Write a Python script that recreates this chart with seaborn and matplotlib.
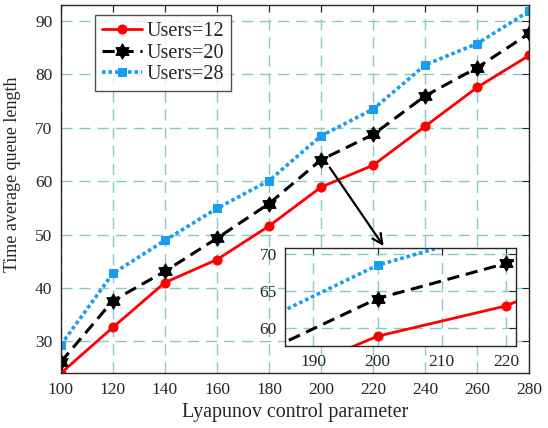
import matplotlib
matplotlib.use("Agg")
import numpy as np
import matplotlib.pyplot as plt
from matplotlib.path import Path
import seaborn as sns

# Data
v_values = [100, 120, 140, 160, 180, 200, 220, 240, 260, 280]
users_12 = [24.0, 32.6, 41.0, 45.3, 51.6, 58.9, 63.0, 70.3, 77.6, 83.6]
users_20 = [26.1, 37.6, 43.1, 49.3, 55.8, 64.0, 68.75, 76.0, 81.3, 87.7]
users_28 = [29.3, 42.7, 48.9, 54.9, 60.1, 68.5, 73.5, 81.8, 85.8, 91.9]

x_ticks = [100, 120, 140, 160, 180, 200, 220, 240, 260, 280]
y_ticks = [30, 40, 50, 60, 70, 80, 90]
inset_x_ticks = [190, 200, 210, 220]
inset_y_ticks = [60, 65, 70]

sns.set_style("white")
plt.rcParams["font.family"] = ["Liberation Serif", "DejaVu Serif"]

red = "#ff0000"
blue = "#1a9cf0"
grid_color = "#86c9c9"
dark = "#262626"

# hexagram marker (two overlapping triangles)
ang_up = np.deg2rad([90, 210, 330, 90])
ang_dn = np.deg2rad([270, 30, 150, 270])
verts = list(zip(np.cos(ang_up), np.sin(ang_up))) + list(zip(np.cos(ang_dn), np.sin(ang_dn)))
codes = [Path.MOVETO, Path.LINETO, Path.LINETO, Path.CLOSEPOLY] * 2
hexagram = Path(verts, codes)

series = [
    ("Users=12", users_12, dict(color=red, linestyle="-", linewidth=2.0,
                                marker="o", markersize=6.5,
                                markerfacecolor=red, markeredgecolor=red)),
    ("Users=20", users_20, dict(color="black", linestyle=(0, (4, 2.2)), linewidth=2.2,
                                marker=hexagram, markersize=11,
                                markerfacecolor="black", markeredgecolor="black")),
    ("Users=28", users_28, dict(color=blue, linestyle=(0, (1, 0.8)), linewidth=2.6,
                                marker="s", markersize=6,
                                markerfacecolor=blue, markeredgecolor=blue)),
]


def style_axes(ax, xt, yt, fs):
    ax.set_xticks(xt)
    ax.set_yticks(yt)
    ax.tick_params(direction="in", top=True, right=True, length=5, width=0.8,
                   labelsize=fs, colors=dark, pad=6)
    ax.grid(True, color=grid_color, linestyle=(0, (8, 5)), linewidth=1.0)
    for s in ax.spines.values():
        s.set_color(dark)
        s.set_linewidth(1.0)
        s.set_visible(True)


fig = plt.figure(figsize=(5.48, 4.28), dpi=100)
ax = fig.add_axes([0.111, 0.128, 0.855, 0.860])

for label, vals, kw in series:
    sns.lineplot(x=v_values, y=vals, ax=ax, label=label, **kw)

ax.set_xlim(100, 280)
ax.set_ylim(24, 93)
style_axes(ax, x_ticks, y_ticks, 12.5)
ax.set_xlabel("Lyapunov control parameter", fontsize=14.4, color=dark, labelpad=4)
ax.set_ylabel("Time average queue length", fontsize=13, color=dark)
ax.yaxis.set_label_coords(-0.085, 0.54)

leg = ax.legend(loc="upper left", bbox_to_anchor=(0.073, 0.973), fontsize=14.5,
                frameon=True, fancybox=False, edgecolor=dark,
                handlelength=2.0, handletextpad=0.2, borderpad=0.35,
                labelspacing=0.12, borderaxespad=0.0)
leg.get_frame().set_linewidth(1.0)

# arrow pointing to the zoomed region
ax.annotate("", xy=(224.6, 47.4), xytext=(202.7, 63.0),
            arrowprops=dict(arrowstyle="->", color="black", lw=1.6,
                            mutation_scale=18))

# inset
axin = fig.add_axes([0.520, 0.192, 0.421, 0.228])
for label, vals, kw in series:
    sns.lineplot(x=v_values, y=vals, ax=axin, legend=False, **kw)
axin.set_xlim(185.6, 221.5)
axin.set_ylim(57.6, 70.8)
style_axes(axin, inset_x_ticks, inset_y_ticks, 12.5)
axin.set_xlabel("")
axin.set_ylabel("")
axin.set_facecolor("white")

fig.savefig("out.png", dpi=100)
